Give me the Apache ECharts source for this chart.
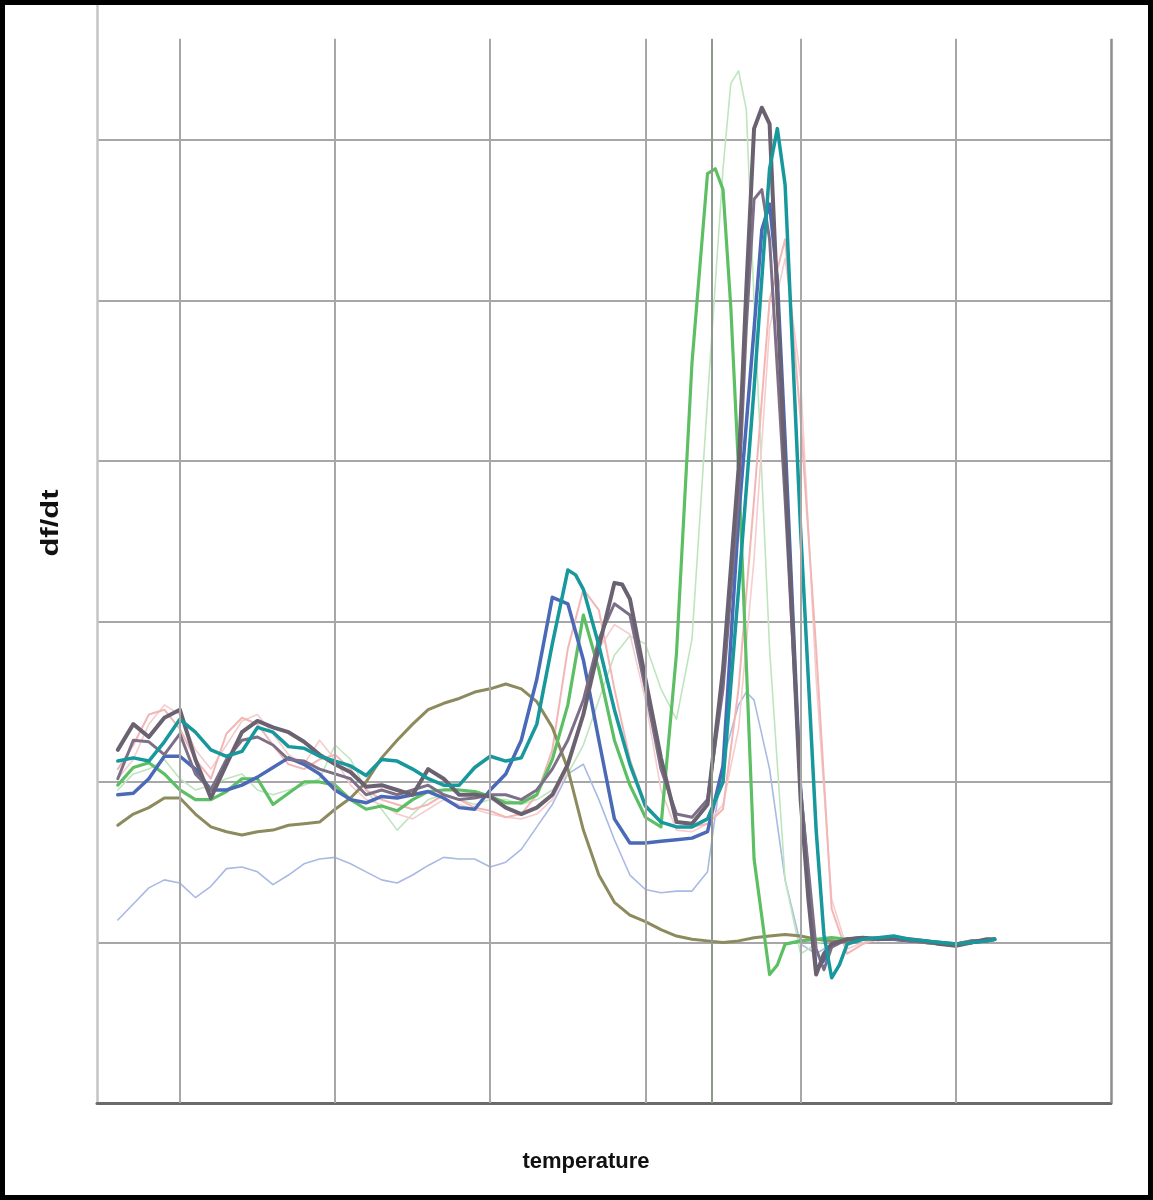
<!DOCTYPE html>
<html>
<head>
<meta charset="utf-8">
<script src="https://cdn.jsdelivr.net/npm/echarts@6/dist/echarts.min.js"></script>
<style>
html,body{margin:0;padding:0;background:#fff;}
#c{width:1153px;height:1200px;}
</style>
</head>
<body>
<div id="c"></div>
<script>
// Axis labels and tick values (no numeric labels are shown in the original)
const xAxisTitle = 'temperature';
const yAxisTitle = 'df/dt';
const gridTemps = [65, 70, 75, 80, 85, 90, 95];   // vertical grid lines (°C)
const markerTemp = 82.15;                          // extra vertical reference line

// Melt-curve series: [temperature, df/dt]
const olive = [[63,0.73],[63.5,0.80],[64,0.84],[64.5,0.90],[65,0.90],[65.5,0.80],[66,0.72],[66.5,0.69],[67,0.67],[67.5,0.69],[68,0.70],[68.5,0.73],[69,0.74],[69.5,0.75],[70,0.83],[70.5,0.90],[71,1.00],[71.5,1.15],[72,1.26],[72.5,1.36],[73,1.45],[73.5,1.49],[74,1.52],[74.5,1.56],[75,1.58],[75.5,1.61],[76,1.58],[76.5,1.50],[77,1.34],[77.5,1.08],[78,0.70],[78.5,0.42],[79,0.25],[79.5,0.17],[80,0.13],[80.5,0.08],[81,0.04],[81.5,0.02],[82,0.01],[82.5,0.00],[83,0.01],[83.5,0.03],[84,0.04],[84.5,0.05],[85,0.04],[85.5,0.02],[86,0.01],[86.5,0.00],[87,0.02],[87.5,0.03],[88,0.02],[88.5,0.01],[89,0.00],[89.5,-0.01],[90,-0.02],[90.5,0.00],[91,0.01],[91.25,0.02]];

const green = [[63,0.98],[63.5,1.09],[64,1.12],[64.5,1.05],[65,0.95],[65.5,0.89],[66,0.89],[66.5,0.94],[67,1.02],[67.5,1.02],[68,0.86],[68.5,0.93],[69,1.00],[69.5,1.00],[70,0.98],[70.5,0.89],[71,0.83],[71.5,0.85],[72,0.82],[72.5,0.89],[73,0.94],[73.5,0.95],[74,0.95],[74.5,0.94],[75,0.91],[75.5,0.87],[76,0.87],[76.5,0.92],[77,1.14],[77.5,1.48],[78,2.04],[78.5,1.70],[79,1.26],[79.5,0.98],[80,0.78],[80.5,0.72],[81,1.80],[81.5,3.61],[82,4.79],[82.25,4.82],[82.5,4.69],[82.75,3.96],[83,2.95],[83.5,0.52],[84,-0.20],[84.25,-0.14],[84.5,-0.01],[85,0.01],[85.5,0.02],[86,0.03],[86.5,0.02],[87,0.03],[87.5,0.02],[88,0.03],[88.5,0.02],[89,0.00],[89.5,-0.01],[90,-0.01],[90.5,0.01],[91,0.01],[91.25,0.02]];

const paleGreen = [[63,0.95],[63.5,1.05],[64,1.08],[64.5,1.14],[65,1.02],[65.5,0.95],[66,0.98],[66.5,1.02],[67,1.05],[67.5,0.95],[68,0.92],[68.5,0.95],[69,0.98],[69.5,1.02],[70,1.23],[70.5,1.14],[71,0.95],[71.5,0.83],[72,0.70],[72.5,0.80],[73,0.89],[73.5,0.92],[74,0.89],[74.5,0.86],[75,0.89],[75.5,0.89],[76,0.86],[76.5,0.89],[77,0.95],[77.5,1.05],[78,1.23],[78.5,1.51],[79,1.79],[79.5,1.91],[80,1.86],[80.5,1.58],[81,1.39],[81.5,1.89],[82,3.38],[82.5,4.82],[82.75,5.35],[83,5.43],[83.25,5.19],[83.5,4.00],[84,1.83],[84.5,0.39],[85,-0.07],[85.5,-0.01],[86,0.02],[86.5,0.01],[87,0.02],[87.5,0.03],[88,0.02],[88.5,0.01],[89,0.01],[89.5,0.00],[90,-0.01],[90.5,0.00],[91,0.01],[91.25,0.02]];

const darkGray = [[63,1.20],[63.5,1.36],[64,1.28],[64.5,1.40],[65,1.45],[65.5,1.14],[66,0.90],[66.5,1.11],[67,1.31],[67.5,1.38],[68,1.34],[68.5,1.31],[69,1.25],[69.5,1.17],[70,1.11],[70.5,1.06],[71,0.97],[71.5,0.98],[72,0.95],[72.5,0.92],[73,1.08],[73.5,1.02],[74,0.92],[74.5,0.92],[75,0.91],[75.5,0.84],[76,0.80],[76.5,0.84],[77,0.92],[77.5,1.11],[78,1.42],[78.5,1.84],[79,2.24],[79.25,2.23],[79.5,2.14],[80,1.64],[80.5,1.15],[81,0.75],[81.5,0.74],[82,0.86],[82.5,1.70],[83,2.95],[83.25,4.07],[83.5,5.07],[83.75,5.20],[84,5.10],[84.25,4.01],[84.5,2.95],[85,0.89],[85.25,0.27],[85.5,-0.20],[85.75,-0.07],[86,-0.01],[86.5,0.02],[87,0.03],[87.5,0.02],[88,0.03],[88.5,0.02],[89,0.01],[89.5,-0.01],[90,-0.02],[90.5,0.00],[91,0.02],[91.25,0.02]];

const purpleGray = [[63,1.02],[63.5,1.26],[64,1.25],[64.5,1.17],[65,1.30],[65.5,1.05],[66,0.95],[66.5,1.14],[67,1.26],[67.5,1.28],[68,1.23],[68.5,1.14],[69,1.13],[69.5,1.08],[70,1.05],[70.5,1.02],[71,0.92],[71.5,0.95],[72,0.92],[72.5,0.95],[73,0.98],[73.5,0.92],[74,0.89],[74.5,0.90],[75,0.92],[75.5,0.92],[76,0.89],[76.5,0.95],[77,1.08],[77.5,1.26],[78,1.51],[78.5,1.89],[79,2.11],[79.5,2.04],[80,1.58],[80.5,1.08],[81,0.80],[81.5,0.78],[82,0.89],[82.5,1.58],[83,2.76],[83.25,3.83],[83.5,4.63],[83.75,4.69],[84,4.38],[84.5,2.76],[85,0.95],[85.5,-0.04],[85.75,-0.17],[86,-0.03],[86.5,0.02],[87,0.02],[87.5,0.03],[88,0.02],[88.5,0.01],[89,0.00],[89.5,-0.01],[90,-0.01],[90.5,0.01],[91,0.01],[91.25,0.02]];

const teal = [[63,1.13],[63.5,1.15],[64,1.13],[64.5,1.25],[65,1.39],[65.5,1.31],[66,1.20],[66.5,1.16],[67,1.19],[67.5,1.34],[68,1.31],[68.5,1.22],[69,1.21],[69.5,1.16],[70,1.13],[70.5,1.10],[71,1.04],[71.5,1.14],[72,1.13],[72.5,1.08],[73,1.02],[73.5,0.98],[74,0.98],[74.5,1.09],[75,1.16],[75.5,1.13],[76,1.15],[76.5,1.36],[77,1.86],[77.5,2.32],[77.75,2.29],[78,2.20],[78.5,1.85],[79,1.45],[79.5,1.11],[80,0.85],[80.5,0.75],[81,0.72],[81.5,0.72],[82,0.77],[82.5,1.00],[83,2.20],[83.5,3.45],[84,4.82],[84.25,5.07],[84.5,4.72],[85,2.57],[85.5,0.70],[85.75,0.05],[86,-0.22],[86.25,-0.14],[86.5,-0.01],[87,0.02],[87.5,0.03],[88,0.04],[88.5,0.02],[89,0.01],[89.5,0.00],[90,-0.01],[90.5,0.00],[91,0.01],[91.25,0.02]];

const blue = [[63,0.92],[63.5,0.93],[64,1.02],[64.5,1.16],[65,1.16],[65.5,1.08],[66,0.95],[66.5,0.95],[67,0.98],[67.5,1.03],[68,1.09],[68.5,1.15],[69,1.11],[69.5,1.05],[70,0.95],[70.5,0.89],[71,0.87],[71.5,0.91],[72,0.90],[72.5,0.92],[73,0.94],[73.5,0.90],[74,0.84],[74.5,0.83],[75,0.95],[75.5,1.05],[76,1.26],[76.5,1.64],[77,2.15],[77.5,2.11],[78,1.76],[78.5,1.26],[79,0.77],[79.5,0.62],[80,0.62],[80.5,0.63],[81,0.64],[81.5,0.65],[82,0.69],[82.5,1.10],[83,2.64],[83.5,3.82],[83.75,4.44],[84,4.60],[84.25,4.13],[84.5,3.13],[85,0.95],[85.5,-0.17],[85.75,-0.11],[86,-0.01],[86.5,0.02],[87,0.03],[87.5,0.02],[88,0.02],[88.5,0.01],[89,0.01],[89.5,0.00],[90,-0.01],[90.5,0.00],[91,0.01],[91.25,0.02]];

const pink = [[63,1.08],[63.5,1.23],[64,1.42],[64.5,1.45],[65,1.33],[65.5,1.14],[66,1.02],[66.5,1.30],[67,1.40],[67.5,1.36],[68,1.23],[68.5,1.11],[69,1.08],[69.5,1.14],[70,1.17],[70.5,1.08],[71,0.95],[71.5,0.89],[72,0.86],[72.5,0.83],[73,0.86],[73.5,0.92],[74,0.89],[74.5,0.84],[75,0.82],[75.5,0.78],[76,0.80],[76.5,0.92],[77,1.20],[77.5,1.83],[78,2.20],[78.5,2.07],[79,1.58],[79.5,1.14],[80,0.86],[80.5,0.75],[81,0.72],[81.5,0.72],[82,0.74],[82.5,0.83],[83,1.58],[83.5,2.76],[84,4.00],[84.5,4.38],[85,3.26],[85.5,1.83],[86,0.21],[86.5,-0.07],[87,-0.01],[87.5,0.02],[88,0.03],[88.5,0.02],[89,0.01],[89.5,-0.01],[90,-0.02],[90.5,0.00],[91,0.01],[91.25,0.02]];

const salmon = [[63,1.02],[63.5,1.14],[64,1.36],[64.5,1.48],[65,1.42],[65.5,1.20],[66,1.08],[66.5,1.23],[67,1.38],[67.5,1.42],[68,1.30],[68.5,1.17],[69,1.11],[69.5,1.26],[70,1.14],[70.5,0.98],[71,0.89],[71.5,0.86],[72,0.80],[72.5,0.77],[73,0.83],[73.5,0.89],[74,0.86],[74.5,0.83],[75,0.80],[75.5,0.78],[76,0.77],[76.5,0.80],[77,0.89],[77.5,1.08],[78,1.45],[78.5,1.83],[79,1.98],[79.5,1.92],[80,1.51],[80.5,0.95],[81,0.70],[81.5,0.69],[82,0.74],[82.5,0.86],[83,1.33],[83.5,2.39],[84,3.83],[84.5,4.26],[85,3.51],[85.5,1.64],[86,0.27],[86.5,-0.04],[87,0.00],[87.5,0.02],[88,0.03],[88.5,0.02],[89,0.00],[89.5,-0.01],[90,-0.01],[90.5,0.00],[91,0.01],[91.25,0.02]];

const paleBlue = [[63,0.14],[63.5,0.24],[64,0.34],[64.5,0.39],[65,0.37],[65.5,0.28],[66,0.35],[66.5,0.46],[67,0.47],[67.5,0.44],[68,0.36],[68.5,0.42],[69,0.49],[69.5,0.52],[70,0.53],[70.5,0.49],[71,0.44],[71.5,0.39],[72,0.37],[72.5,0.42],[73,0.48],[73.5,0.53],[74,0.52],[74.5,0.52],[75,0.47],[75.5,0.50],[76,0.58],[76.5,0.72],[77,0.86],[77.5,1.05],[78,1.11],[78.5,0.89],[79,0.64],[79.5,0.42],[80,0.33],[80.5,0.31],[81,0.32],[81.5,0.32],[82,0.44],[82.5,1.14],[83,1.48],[83.25,1.56],[83.5,1.51],[84,1.08],[84.5,0.39],[85,-0.01],[85.5,-0.07],[86,-0.01],[86.5,0.01],[87,0.02],[87.5,0.03],[88,0.02],[88.5,0.01],[89,0.00],[89.5,-0.01],[90,-0.01],[90.5,0.00],[91,0.01],[91.25,0.02]];

const W = 1153, H = 1200;
const chart = echarts.init(document.getElementById('c'), null, {renderer: 'canvas', width: W, height: H});

const yMin = -1, yMax = 5.84, gridTopValue = 5.63;

function lineSeries(name, data, color, width) {
  return {
    name: name, type: 'line', data: data, showSymbol: false, symbol: 'none',
    smooth: false, silent: true,
    lineStyle: {color: color, width: width, join: 'round', cap: 'round'},
    emphasis: {disabled: true}
  };
}

const gridLineData = gridTemps.map(function (t, i) {
  const last = i === gridTemps.length - 1;
  return [
    {coord: [t, yMin], lineStyle: {color: last ? '#8e8e8e' : '#a7a7a7', width: last ? 2.5 : 2, type: 'solid'}},
    {coord: [t, gridTopValue]}
  ];
});
gridLineData.push([
  {coord: [markerTemp, yMin], lineStyle: {color: '#8f9a8f', width: 2, type: 'solid'}},
  {coord: [markerTemp, gridTopValue]}
]);

const option = {
  animation: false,
  backgroundColor: '#ffffff',
  grid: {left: 97, right: 42, top: 5, bottom: 97, containLabel: false},
  xAxis: {
    type: 'value', min: 62.33, max: 95,
    axisLine: {show: true, onZero: false, lineStyle: {color: '#6a6a6a', width: 3}},
    axisTick: {show: false}, axisLabel: {show: false}, splitLine: {show: false}
  },
  yAxis: {
    type: 'value', min: yMin, max: yMax, interval: 1,
    axisLine: {show: true, onZero: false, lineStyle: {color: '#c4c4c4', width: 2.5}},
    axisTick: {show: false}, axisLabel: {show: false},
    splitLine: {show: true, showMinLine: false, showMaxLine: false, lineStyle: {color: '#a7a7a7', width: 2}}
  },
  graphic: [
    {type: 'text', x: 586, y: 1162, silent: true,
     style: {text: xAxisTitle, font: 'bold 22px "Liberation Sans", Arial, sans-serif', fill: '#111', textAlign: 'center', textVerticalAlign: 'middle'}},
    {type: 'text', x: 52, y: 523, rotation: Math.PI / 2, scaleX: 1.35, silent: true,
     style: {text: yAxisTitle, font: 'bold 23px "Liberation Sans", Arial, sans-serif', fill: '#111', textAlign: 'center', textVerticalAlign: 'middle'}},
    {type: 'rect', z: 100, silent: true, shape: {x: 0, y: 0, width: W, height: H},
     style: {fill: 'none', stroke: '#000', lineWidth: 10}}
  ],
  series: [
    {
      type: 'line', data: [], silent: true, z: 1,
      markLine: {silent: true, symbol: ['none', 'none'], label: {show: false}, animation: false,
        emphasis: {disabled: true}, data: gridLineData}
    },
    lineSeries('paleBlue', paleBlue, '#a9b9e3', 1.6),
    lineSeries('paleGreen', paleGreen, '#bfe5bf', 1.6),
    lineSeries('salmon', salmon, '#f6cccc', 1.6),
    lineSeries('pink', pink, '#f3b6b6', 2),
    lineSeries('olive', olive, '#8d8a5d', 3),
    lineSeries('green', green, '#5dbf63', 3.2),
    lineSeries('blue', blue, '#4a69b6', 3.5),
    lineSeries('purpleGray', purpleGray, '#7d6f88', 3),
    lineSeries('darkGray', darkGray, '#6a6171', 4),
    lineSeries('teal', teal, '#16989c', 3.5)
  ]
};
chart.setOption(option);
</script>
</body>
</html>
